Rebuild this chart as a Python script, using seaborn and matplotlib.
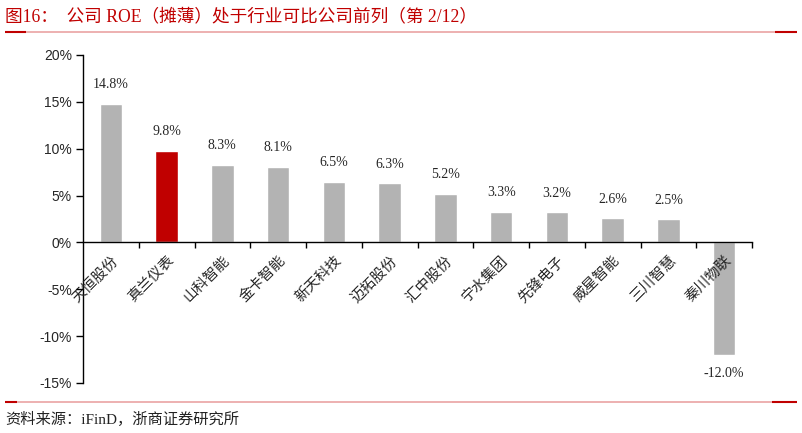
import matplotlib
matplotlib.use("Agg")
import matplotlib.pyplot as plt
import seaborn as sns
import pandas as pd
from matplotlib.ticker import FuncFormatter, FixedLocator
from matplotlib.lines import Line2D

categories = ["天恒股份", "真兰仪表", "山科智能", "金卡智能", "新天科技", "迈拓股份",
              "汇中股份", "宁水集团", "先锋电子", "威星智能", "三川智慧", "秦川物联"]
roe = [14.8, 9.8, 8.3, 8.1, 6.5, 6.3, 5.2, 3.3, 3.2, 2.6, 2.5, -12.0]
highlight = "真兰仪表"
yticks = [-15, -10, -5, 0, 5, 10, 15, 20]
title = "图16：  公司 ROE（摊薄）处于行业可比公司前列（第 2/12）"
source = "资料来源：iFinD，浙商证券研究所"

sns.set_theme(style="white")
plt.rcParams['font.family'] = ['Liberation Serif', 'Noto Sans CJK SC', 'DejaVu Sans']

GRAY = "#b3b3b3"
RED = "#c00000"
PINK = "#eaa3a3"

df = pd.DataFrame({"cat": categories, "roe": roe})
palette = {c: (RED if c == highlight else GRAY) for c in categories}

fig = plt.figure(figsize=(8.02, 4.33), dpi=100)
W, H = 802, 433
ax = fig.add_axes([83 / W, 50 / H, (752 - 83) / W, 328 / H])

sns.barplot(data=df, x="cat", y="roe", hue="cat", palette=palette, width=0.4,
            legend=False, ax=ax, saturation=1)
ax.set_axisbelow(False)

ax.set_xlim(-0.5, len(categories) - 0.5)
ax.set_ylim(-15, 20)
ax.set_yticks(yticks)
ax.yaxis.set_major_formatter(FuncFormatter(lambda v, p: f"{int(v)}%"))
for lab in ax.get_yticklabels():
    lab.set_fontfamily(['Liberation Sans'])
    lab.set_fontsize(10)
ax.tick_params(axis='y', direction='out', length=5, width=1, color='black', pad=3, left=True)

for s in ['top', 'right']:
    ax.spines[s].set_visible(False)
ax.spines['left'].set_color('black')
ax.spines['left'].set_linewidth(1)
ax.spines['bottom'].set_position(('data', 0))
ax.spines['bottom'].set_color('black')
ax.spines['bottom'].set_linewidth(1)

ax.set_xticks(range(len(categories)))
ax.set_xticklabels(categories, rotation=45, ha='right', rotation_mode='anchor',
                   fontsize=10.5, family=['Noto Sans CJK SC'])
ax.tick_params(axis='x', which='major', length=0, pad=8, bottom=True)
ax.xaxis.set_minor_locator(FixedLocator([i + 0.5 for i in range(len(categories))]))
ax.tick_params(axis='x', which='minor', direction='out', length=4, width=1,
               color='black', bottom=True)
ax.set_xlabel("")
ax.set_ylabel("")
ax.grid(False)

for i, v in enumerate(roe):
    if v >= 0:
        ax.annotate(f"{v:.1f}%", (i, v), xytext=(0, 9), textcoords='offset points',
                    ha='center', va='bottom', fontsize=10, family=['Liberation Serif'])
    else:
        ax.annotate(f"{v:.1f}%", (i, v), xytext=(0, -9), textcoords='offset points',
                    ha='center', va='top', fontsize=10, family=['Liberation Serif'])

# title and decorative lines
fig.text(5 / W, 1 - 17 / H, title, ha='left', va='center', fontsize=12.7, color=RED,
         family=['Liberation Serif', 'Noto Sans CJK SC'])

def hline(y, x0, x1, color, lw):
    fig.add_artist(Line2D([x0 / W, x1 / W], [1 - y / H, 1 - y / H], color=color,
                          lw=lw, transform=fig.transFigure, solid_capstyle='butt'))

hline(32, 5, 797, PINK, 1.2)
hline(32, 5, 26, RED, 1.5)
hline(32, 775, 797, RED, 1.5)
hline(402, 5, 797, PINK, 1.2)
hline(402, 5, 17, RED, 1.5)
hline(402, 772, 797, RED, 1.5)

fig.text(5 / W, 1 - 419 / H, source, ha='left', va='center', fontsize=11, color='#222222',
         family=['Liberation Serif', 'Noto Sans CJK SC'])

fig.savefig("out.png", dpi=100)
